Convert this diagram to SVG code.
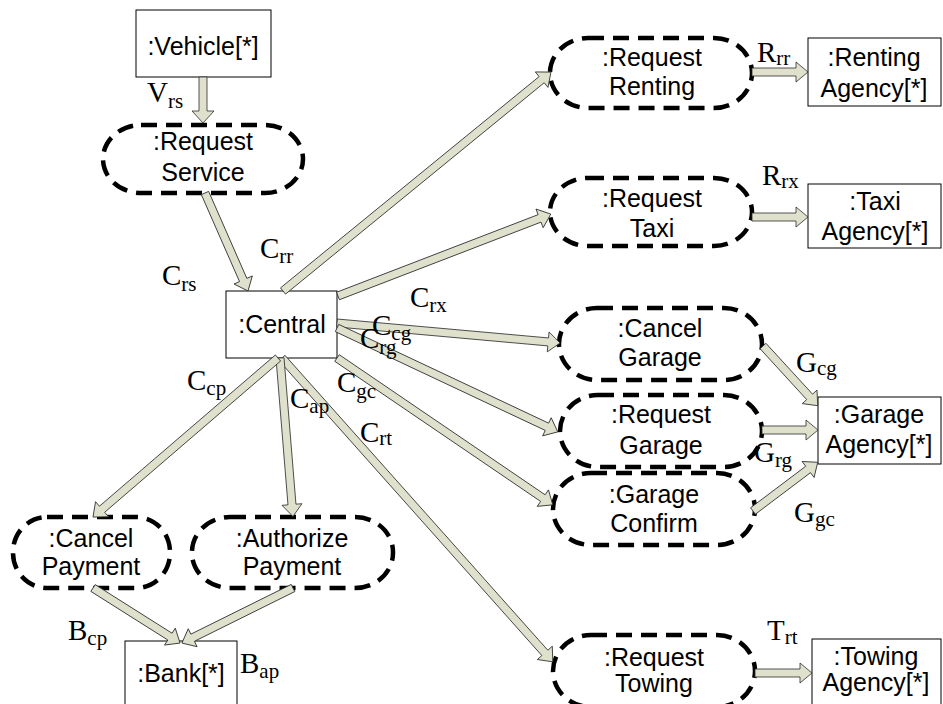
<svg xmlns="http://www.w3.org/2000/svg" width="943" height="704" viewBox="0 0 943 704">
  <style>
    .box { fill: #ffffff; stroke: #000000; stroke-width: 1; }
    .role { fill: #ffffff; stroke: #000000; stroke-width: 4.5; stroke-dasharray: 16 9; }
    .name { font-family: "Liberation Sans", Arial, sans-serif; font-size: 25px; fill: #000000; text-anchor: middle; }
    .conn path { fill: #dfe1cc; stroke: #2b2b2b; stroke-width: 0.8; stroke-linejoin: miter; }
    .lbl { font-family: "Liberation Serif", "Times New Roman", serif; font-size: 29px; fill: #000000; }
    .sub { font-size: 21px; }
  </style>

  <!-- components (plain boxes) -->
  <g id="vehicle">
    <rect class="box" x="136" y="10" width="135" height="67"/>
    <text class="name" x="203" y="55">:Vehicle[*]</text>
  </g>
  <g id="central">
    <rect class="box" x="226" y="291" width="111" height="67"/>
    <text class="name" x="282" y="333">:Central</text>
  </g>
  <g id="renting-agency">
    <rect class="box" x="808" y="38" width="133" height="68"/>
    <text class="name" x="874" y="66">:Renting</text>
    <text class="name" x="874" y="97">Agency[*]</text>
  </g>
  <g id="taxi-agency">
    <rect class="box" x="808" y="184" width="133" height="64"/>
    <text class="name" x="875" y="210">:Taxi</text>
    <text class="name" x="875" y="240">Agency[*]</text>
  </g>
  <g id="garage-agency">
    <rect class="box" x="818" y="397" width="123" height="67"/>
    <text class="name" x="879" y="423">:Garage</text>
    <text class="name" x="879" y="453">Agency[*]</text>
  </g>
  <g id="towing-agency">
    <rect class="box" x="812" y="639" width="129" height="70"/>
    <text class="name" x="876" y="665">:Towing</text>
    <text class="name" x="876" y="691">Agency[*]</text>
  </g>
  <g id="bank">
    <rect class="box" x="125" y="641" width="112" height="70"/>
    <text class="name" x="181" y="682">:Bank[*]</text>
  </g>

  <!-- roles (dashed rounded boxes) -->
  <g id="request-service">
    <rect class="role" x="103" y="125" width="200" height="68" rx="38" ry="34"/>
    <text class="name" x="203" y="150">:Request</text>
    <text class="name" x="203" y="181">Service</text>
  </g>
  <g id="request-renting">
    <rect class="role" x="550" y="38" width="202" height="70" rx="38" ry="35"/>
    <text class="name" x="652" y="66">:Request</text>
    <text class="name" x="652" y="95">Renting</text>
  </g>
  <g id="request-taxi">
    <rect class="role" x="550" y="178" width="202" height="68" rx="38" ry="34"/>
    <text class="name" x="652" y="207">:Request</text>
    <text class="name" x="652" y="237">Taxi</text>
  </g>
  <g id="cancel-garage">
    <rect class="role" x="559" y="308" width="203" height="72" rx="38" ry="36"/>
    <text class="name" x="660" y="337">:Cancel</text>
    <text class="name" x="660" y="366">Garage</text>
  </g>
  <g id="request-garage">
    <rect class="role" x="560" y="395" width="202" height="72" rx="38" ry="36"/>
    <text class="name" x="661" y="423">:Request</text>
    <text class="name" x="661" y="454">Garage</text>
  </g>
  <g id="garage-confirm">
    <rect class="role" x="553" y="473" width="202" height="72" rx="38" ry="36"/>
    <text class="name" x="654" y="503">:Garage</text>
    <text class="name" x="654" y="532">Confirm</text>
  </g>
  <g id="request-towing">
    <rect class="role" x="553" y="635" width="202" height="72" rx="38" ry="36"/>
    <text class="name" x="654" y="666">:Request</text>
    <text class="name" x="654" y="692">Towing</text>
  </g>
  <g id="cancel-payment">
    <rect class="role" x="13" y="517" width="157" height="71" rx="34" ry="35"/>
    <text class="name" x="91" y="547">:Cancel</text>
    <text class="name" x="91" y="575">Payment</text>
  </g>
  <g id="authorize-payment">
    <rect class="role" x="192" y="517" width="201" height="71" rx="38" ry="35"/>
    <text class="name" x="292" y="547">:Authorize</text>
    <text class="name" x="292" y="575">Payment</text>
  </g>

  <!-- connectors: block arrows drawn along +x, then placed -->
  <g id="connectors" class="conn">
    <path transform="translate(203,77) rotate(90)" d="M0,-4H34V-11L46,0L34,11V4H0Z"/>
    <path transform="translate(205,193) rotate(66.3)" d="M0,-4H95V-10L107,0L95,10V4H0Z"/>
    <path transform="translate(283,291) rotate(-39.25)" d="M0,-4H334V-10L346,0L334,10V4H0Z"/>
    <path transform="translate(338,296) rotate(-21.06)" d="M0,-4H216V-10L228,0L216,10V4H0Z"/>
    <path transform="translate(752,72)" d="M0,-4H44V-10L56,0L44,10V4H0Z"/>
    <path transform="translate(752,217)" d="M0,-4H44V-10L56,0L44,10V4H0Z"/>
    <path transform="translate(337,323) rotate(5.12)" d="M0,-4H212V-10L224,0L212,10V4H0Z"/>
    <path transform="translate(337,328) rotate(25.2)" d="M0,-4H232V-10L244,0L232,10V4H0Z"/>
    <path transform="translate(337,358) rotate(34.24)" d="M0,-4H249V-10L261,0L249,10V4H0Z"/>
    <path transform="translate(282,358) rotate(48.29)" d="M0,-4H395V-10L407,0L395,10V4H0Z"/>
    <path transform="translate(280,358) rotate(85.33)" d="M0,-4H147V-10L159,0L147,10V4H0Z"/>
    <path transform="translate(278,358) rotate(139.32)" d="M0,-4H232V-10L244,0L232,10V4H0Z"/>
    <path transform="translate(763,346) rotate(47.49)" d="M0,-4H69V-10L81,0L69,10V4H0Z"/>
    <path transform="translate(762,430)" d="M0,-4H44V-10L56,0L44,10V4H0Z"/>
    <path transform="translate(753,511) rotate(-37)" d="M0,-4H69V-10L81,0L69,10V4H0Z"/>
    <path transform="translate(755,673)" d="M0,-4H45V-10L57,0L45,10V4H0Z"/>
    <path transform="translate(93,588) rotate(32.3)" d="M0,-4H91V-10L103,0L91,10V4H0Z"/>
    <path transform="translate(293,588) rotate(153.64)" d="M0,-4H112V-10L124,0L112,10V4H0Z"/>
  </g>

  <!-- connector labels -->
  <g id="labels">
    <text class="lbl" x="147" y="102">V<tspan class="sub" dy="6">rs</tspan></text>
    <text class="lbl" x="162" y="285">C<tspan class="sub" dy="6">rs</tspan></text>
    <text class="lbl" x="260" y="258">C<tspan class="sub" dy="5">rr</tspan></text>
    <text class="lbl" x="410" y="307">C<tspan class="sub" dy="5">rx</tspan></text>
    <text class="lbl" x="757" y="62">R<tspan class="sub" dy="3">rr</tspan></text>
    <text class="lbl" x="762" y="185">R<tspan class="sub" dy="3">rx</tspan></text>
    <text class="lbl" x="372" y="335">C<tspan class="sub" dy="5">cg</tspan></text>
    <text class="lbl" x="360" y="348">C<tspan class="sub" dy="6">rg</tspan></text>
    <text class="lbl" x="337" y="392">C<tspan class="sub" dy="6">gc</tspan></text>
    <text class="lbl" x="187" y="390">C<tspan class="sub" dy="5">cp</tspan></text>
    <text class="lbl" x="290" y="408">C<tspan class="sub" dy="5">ap</tspan></text>
    <text class="lbl" x="360" y="442">C<tspan class="sub" dy="3">rt</tspan></text>
    <text class="lbl" x="796" y="372">G<tspan class="sub" dy="3">cg</tspan></text>
    <text class="lbl" x="754" y="462">G<tspan class="sub" dy="5">rg</tspan></text>
    <text class="lbl" x="794" y="522">G<tspan class="sub" dy="4">gc</tspan></text>
    <text class="lbl" x="767" y="640">T<tspan class="sub" dy="4">rt</tspan></text>
    <text class="lbl" x="68" y="640">B<tspan class="sub" dy="5">cp</tspan></text>
    <text class="lbl" x="240" y="673">B<tspan class="sub" dy="5">ap</tspan></text>
  </g>
</svg>
